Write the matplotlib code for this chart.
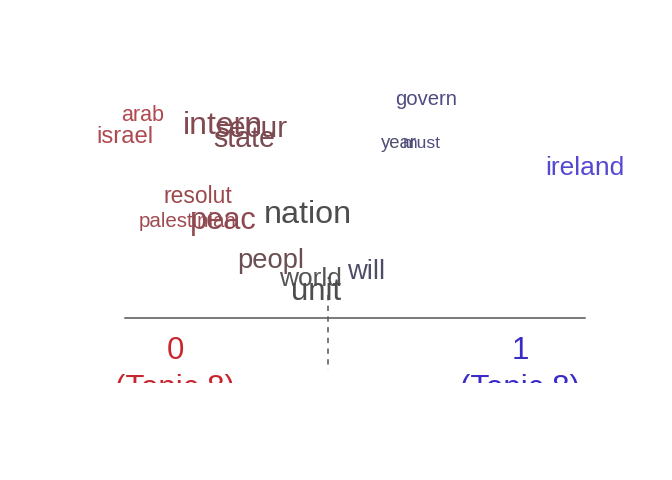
import matplotlib
matplotlib.use("Agg")
import matplotlib.pyplot as plt

plt.rcParams['font.family'] = ['Liberation Sans', 'DejaVu Sans']

# words, their position (x: 0 -> 1 between covariate levels, y: baseline height)
words = ['arab', 'israel', 'palestinian', 'resolut', 'intern', 'secur', 'state',
         'peac', 'nation', 'peopl', 'world', 'unit', 'will',
         'govern', 'year', 'must', 'ireland']
word_x = [0.039, -0.001, 0.137, 0.159, 0.213, 0.274, 0.259,
          0.213, 0.398, 0.317, 0.404, 0.415, 0.524,
          0.654, 0.596, 0.646, 1.0]
word_y = [0.985, 0.875, 0.455, 0.575, 0.92, 0.905, 0.855,
          0.445, 0.475, 0.25, 0.16, 0.09, 0.195,
          1.065, 0.85, 0.85, 0.715]
word_size = [15.5, 17.2, 14.8, 16.5, 23.0, 21.5, 20.6,
             22.2, 23.3, 19.7, 19.0, 22.3, 19.7,
             14.6, 13.3, 12.6, 19.0]
word_color = ['#B04A50', '#AE4A50', '#A04A50', '#9C4A4E', '#844A52', '#7C4A50', '#7C4A50',
              '#8C4A50', '#4D4D4D', '#6A4E52', '#555555', '#4D4D4D', '#4D4D6A',
              '#4E4C80', '#4D4D70', '#504E80', '#5548D0']

levels = ['0', '1']
level_x = [0.109, 0.859]
level_color = ['#C8262E', '#3A2BC8']
topic_label = '(Topic 8)'
center = 0.441

fig = plt.figure(figsize=(6.72, 4.8), dpi=100)
ax = fig.add_axes([0, 97 / 480, 1, 383 / 480])
ax.set_xlim(-125 / 460, 547 / 460)
ax.set_ylim(-65 / 200, 318 / 200)
ax.axis('off')

ax.plot([0, 1], [0, 0], color='#555555', lw=1.1)
ax.plot([center, center], [0.115, -0.26], color='#555555', lw=1.1,
        linestyle=(0, (3.5, 3.5)))

for w, x, y, s, c in zip(words, word_x, word_y, word_size, word_color):
    ax.text(x, y, w, fontsize=s, color=c, ha='center', va='baseline')

for lab, x, c in zip(levels, level_x, level_color):
    ax.text(x, -0.205, lab, fontsize=22.5, color=c, ha='center', va='baseline', clip_on=True)
    ax.text(x, -0.395, topic_label, fontsize=22.5, color=c, ha='center', va='baseline', clip_on=True)

fig.savefig('out.png', dpi=100)
